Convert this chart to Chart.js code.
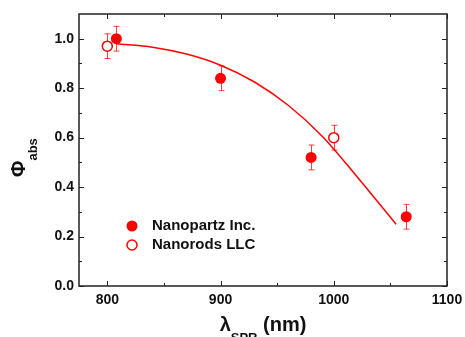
<!DOCTYPE html>
<html>
<head>
<meta charset="utf-8">
<script src="https://cdn.jsdelivr.net/npm/chart.js@4.4.1/dist/chart.umd.min.js"></script>
<style>
  html, body { margin: 0; padding: 0; background: #fff; }
</style>
</head>
<body>
<canvas id="chart" width="465" height="337"></canvas>
<script>
// values
const partzX = [808, 900, 980, 1064];
const partzY = [1.00, 0.84, 0.52, 0.28];
const partzErr = [0.05, 0.05, 0.05, 0.05];

const rodsX = [800, 1000];
const rodsY = [0.97, 0.60];
const rodsErr = [0.05, 0.05];

// fitted curve
const fitX = [808, 840, 870, 900, 930, 960, 990, 1020, 1055];
const fitY = [0.98, 0.966, 0.938, 0.893, 0.825, 0.73, 0.605, 0.445, 0.25];

const xTicks = [800, 900, 1000, 1100];
const xMinor = [850, 950, 1050];
const yTicks = [0.0, 0.2, 0.4, 0.6, 0.8, 1.0];
const yMinor = [0.1, 0.3, 0.5, 0.7, 0.9];

const legendLabels = ["Nanopartz Inc.", "Nanorods LLC"];

const RED = "#ff0000";
const INK = "#111111";

const toPts = (xs, ys) => xs.map((x, i) => ({ x: x, y: ys[i] }));

// frame, ticks, labels, titles, legend
const decor = {
    id: "decor",
    beforeDatasetsDraw(chart) {
        const ctx = chart.ctx;
        const xs = chart.scales.x, ys = chart.scales.y;
        ctx.save();
        ctx.strokeStyle = "rgba(255,0,0,0.75)";
        ctx.lineWidth = 1;
        const bars = (X, Y, E) => {
            X.forEach((x, i) => {
                const px = Math.round(xs.getPixelForValue(x)) + 0.5;
                const top = ys.getPixelForValue(Y[i] + E[i]);
                const bot = ys.getPixelForValue(Y[i] - E[i]);
                ctx.beginPath();
                ctx.moveTo(px, top); ctx.lineTo(px, bot);
                ctx.moveTo(px - 3, top); ctx.lineTo(px + 3, top);
                ctx.moveTo(px - 3, bot); ctx.lineTo(px + 3, bot);
                ctx.stroke();
            });
        };
        bars(partzX, partzY, partzErr);
        bars(rodsX, rodsY, rodsErr);
        ctx.restore();
    },
    afterDraw(chart) {
        const ctx = chart.ctx;
        const a = chart.chartArea;
        const xs = chart.scales.x, ys = chart.scales.y;
        ctx.save();

        // box
        ctx.strokeStyle = "#222";
        ctx.lineWidth = 1.5;
        ctx.strokeRect(a.left, a.top, a.right - a.left, a.bottom - a.top);

        // inward ticks on all four sides
        ctx.lineWidth = 1;
        ctx.beginPath();
        const vt = (v, len) => {
            const p = Math.round(xs.getPixelForValue(v)) + 0.5;
            ctx.moveTo(p, a.bottom); ctx.lineTo(p, a.bottom - len);
            ctx.moveTo(p, a.top); ctx.lineTo(p, a.top + len);
        };
        const ht = (v, len) => {
            const p = Math.round(ys.getPixelForValue(v)) + 0.5;
            ctx.moveTo(a.left, p); ctx.lineTo(a.left + len, p);
            ctx.moveTo(a.right, p); ctx.lineTo(a.right - len, p);
        };
        xTicks.forEach(v => vt(v, 5));
        xMinor.forEach(v => vt(v, 3));
        yTicks.forEach(v => ht(v, 5));
        yMinor.forEach(v => ht(v, 3));
        ctx.stroke();

        // tick labels
        ctx.fillStyle = INK;
        ctx.font = "bold 14px 'Liberation Sans', Arial, sans-serif";
        ctx.textAlign = "center";
        ctx.textBaseline = "middle";
        xTicks.forEach(v => ctx.fillText(String(v), xs.getPixelForValue(v), 300));
        ctx.textAlign = "right";
        yTicks.forEach(v => ctx.fillText(v.toFixed(1), a.left - 5, ys.getPixelForValue(v)));

        // x title: lambda_SPR (nm)
        ctx.textAlign = "left";
        ctx.textBaseline = "alphabetic";
        const big = "bold 20px 'Liberation Sans', Arial, sans-serif";
        const small = "bold 13px 'Liberation Sans', Arial, sans-serif";
        ctx.font = big;
        const w1 = ctx.measureText("λ").width;
        const w3 = ctx.measureText(" (nm)").width;
        ctx.font = small;
        const w2 = ctx.measureText("SPR").width;
        let x0 = (a.left + a.right) / 2 - (w1 + w2 + w3) / 2;
        ctx.font = big;
        ctx.fillText("λ", x0, 331);
        ctx.font = small;
        ctx.fillText("SPR", x0 + w1, 342);
        ctx.font = big;
        ctx.fillText(" (nm)", x0 + w1 + w2, 331);

        // y title: Phi_abs, rotated
        ctx.save();
        ctx.translate(25, 177);
        ctx.rotate(-Math.PI / 2);
        ctx.font = big;
        ctx.fillText("Φ", 0, 0);
        const pw = ctx.measureText("Φ").width;
        ctx.font = small;
        ctx.fillText("abs", pw, 12);
        ctx.restore();

        // legend inside the plot
        const lx = 132, ly = [226, 245];
        ctx.beginPath();
        ctx.arc(lx, ly[0], 5.5, 0, Math.PI * 2);
        ctx.fillStyle = RED;
        ctx.fill();
        ctx.beginPath();
        ctx.arc(lx, ly[1], 5, 0, Math.PI * 2);
        ctx.strokeStyle = RED;
        ctx.lineWidth = 1.5;
        ctx.fillStyle = "#fff";
        ctx.fill();
        ctx.stroke();
        ctx.fillStyle = INK;
        ctx.font = "bold 15px 'Liberation Sans', Arial, sans-serif";
        ctx.textBaseline = "middle";
        ctx.textAlign = "left";
        legendLabels.forEach((t, i) => ctx.fillText(t, 152, ly[i]));

        ctx.restore();
    }
};

new Chart(document.getElementById("chart"), {
    type: "scatter",
    data: {
        datasets: [
            {
                label: legendLabels[0],
                data: toPts(partzX, partzY),
                backgroundColor: RED,
                borderColor: RED,
                pointRadius: 5.5,
                borderWidth: 0
            },
            {
                label: legendLabels[1],
                data: toPts(rodsX, rodsY),
                backgroundColor: "#fff",
                borderColor: RED,
                pointRadius: 5,
                borderWidth: 1.5
            },
            {
                label: "fit",
                data: toPts(fitX, fitY),
                showLine: true,
                borderColor: RED,
                borderWidth: 1.5,
                pointRadius: 0,
                cubicInterpolationMode: "monotone",
                fill: false
            }
        ]
    },
    options: {
        responsive: false,
        animation: false,
        devicePixelRatio: 1,
        layout: { padding: { left: 79, right: 18, top: 14, bottom: 51 } },
        scales: {
            x: { type: "linear", min: 775, max: 1100, display: false },
            y: { type: "linear", min: 0, max: 1.1, display: false }
        },
        plugins: {
            legend: { display: false },
            tooltip: { enabled: false }
        }
    },
    plugins: [decor]
});
</script>
</body>
</html>
